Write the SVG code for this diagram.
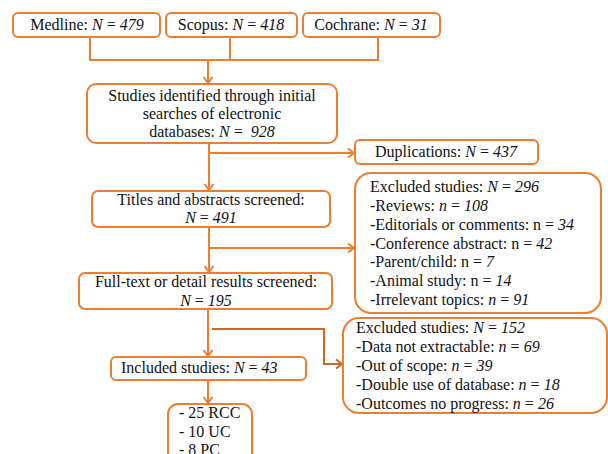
<svg xmlns="http://www.w3.org/2000/svg" width="608" height="454" viewBox="0 0 608 454">
<style>
.box{fill:#fff;stroke:#ED7D31;stroke-width:2}
.ln{fill:none;stroke:#ED7D31;stroke-width:2}
.ln2{fill:none;stroke:#C96A2A;stroke-width:2}
.t{font-family:'Liberation Serif','Times New Roman','DejaVu Serif',serif;font-size:16px;fill:#111}
.c{text-anchor:middle}
.i{font-style:italic}
</style>
<defs>
<marker id="ah" markerUnits="userSpaceOnUse" markerWidth="12" markerHeight="12" refX="9" refY="6" orient="auto">
<path d="M3,1.5 L9,6 L3,10.5" fill="none" stroke="#ED7D31" stroke-width="2"/>
</marker>
<marker id="ah2" markerUnits="userSpaceOnUse" markerWidth="12" markerHeight="12" refX="9" refY="6" orient="auto">
<path d="M3,1.5 L9,6 L3,10.5" fill="none" stroke="#C96A2A" stroke-width="2"/>
</marker>
</defs>
<g id="connectors">
<path class="ln" d="M90,37 V60 M230,37 V60 M378,37 V60 M89,60 H379"/>
<path class="ln" d="M208,60 V83" marker-end="url(#ah)"/>
<path class="ln" d="M209,143 V190" marker-end="url(#ah)"/>
<path class="ln" d="M209,153 H354" marker-end="url(#ah)"/>
<path class="ln" d="M209,227 V272" marker-end="url(#ah)"/>
<path class="ln" d="M209,248 H354" marker-end="url(#ah)"/>
<path class="ln" d="M208,309 V356" marker-end="url(#ah)"/>
<path class="ln2" d="M212,329 H324 V364 H342" marker-end="url(#ah2)"/>
<path class="ln" d="M208,380 V403" marker-end="url(#ah)"/>
</g>
<g class="t" font-family="Liberation Serif, Times New Roman, serif">
<g id="medline">
<rect class="box" x="13" y="13" width="147" height="24" rx="5"/>
<text class="c" x="87" y="30">Medline: <tspan class="i">N</tspan> = <tspan class="i">479</tspan></text>
</g>
<g id="scopus">
<rect class="box" x="166" y="13" width="131" height="24" rx="5"/>
<text class="c" x="231" y="30">Scopus: <tspan class="i">N</tspan> = <tspan class="i">418</tspan></text>
</g>
<g id="cochrane">
<rect class="box" x="303" y="13" width="137" height="24" rx="5"/>
<text class="c" x="371" y="30">Cochrane: <tspan class="i">N</tspan> = <tspan class="i">31</tspan></text>
</g>
<g id="identified">
<rect class="box" x="87" y="84" width="250" height="59" rx="9"/>
<text class="c" x="212" y="101">Studies identified through initial</text>
<text class="c" x="212" y="119">searches of electronic</text>
<text class="c" x="212" y="137">databases: <tspan class="i">N</tspan> = <tspan class="i" dx="4">928</tspan></text>
</g>
<g id="duplications">
<rect class="box" x="355" y="140" width="183" height="24" rx="5"/>
<text class="c" x="446" y="157">Duplications: <tspan class="i">N</tspan> = <tspan class="i">437</tspan></text>
</g>
<g id="titles">
<rect class="box" x="92" y="191" width="238" height="36" rx="6"/>
<text class="c" x="211" y="205">Titles and abstracts screened:</text>
<text class="c" x="211" y="223"><tspan class="i">N</tspan> = <tspan class="i">491</tspan></text>
</g>
<g id="excluded1">
<rect class="box" x="355" y="173" width="246" height="140" rx="16"/>
<text x="370" y="192">Excluded studies: <tspan class="i">N</tspan> = <tspan class="i">296</tspan></text>
<text x="370" y="211">-Reviews: <tspan class="i">n</tspan> = <tspan class="i">108</tspan></text>
<text x="370" y="230">-Editorials or comments: n = <tspan class="i">34</tspan></text>
<text x="370" y="249">-Conference abstract: n = <tspan class="i">42</tspan></text>
<text x="370" y="267">-Parent/child: n = <tspan class="i">7</tspan></text>
<text x="370" y="286">-Animal study: n = <tspan class="i">14</tspan></text>
<text x="370" y="305">-Irrelevant topics: <tspan class="i">n</tspan> = <tspan class="i">91</tspan></text>
</g>
<g id="fulltext">
<rect class="box" x="79" y="273" width="253" height="36" rx="6"/>
<text class="c" x="206" y="287">Full-text or detail results screened:</text>
<text class="c" x="206" y="306"><tspan class="i">N</tspan> = <tspan class="i">195</tspan></text>
</g>
<g id="excluded2">
<rect class="box" x="343" y="318" width="264" height="95" rx="16"/>
<text x="356" y="333">Excluded studies: <tspan class="i">N</tspan> = <tspan class="i">152</tspan></text>
<text x="356" y="352">-Data not extractable: <tspan class="i">n</tspan> = <tspan class="i">69</tspan></text>
<text x="356" y="371">-Out of scope: <tspan class="i">n</tspan> = <tspan class="i">39</tspan></text>
<text x="356" y="390">-Double use of database: <tspan class="i">n</tspan> = <tspan class="i">18</tspan></text>
<text x="356" y="409">-Outcomes no progress: <tspan class="i">n</tspan> = <tspan class="i">26</tspan></text>
</g>
<g id="included">
<rect class="box" x="111" y="357" width="195" height="23" rx="5"/>
<text x="121" y="373">Included studies: <tspan class="i">N</tspan> = <tspan class="i">43</tspan></text>
</g>
<g id="types">
<rect class="box" x="168" y="404" width="84" height="62" rx="10"/>
<text x="179" y="418">- 25 RCC</text>
<text x="179" y="437">- 10 UC</text>
<text x="179" y="455">- 8 PC</text>
</g>
</g>
</svg>
